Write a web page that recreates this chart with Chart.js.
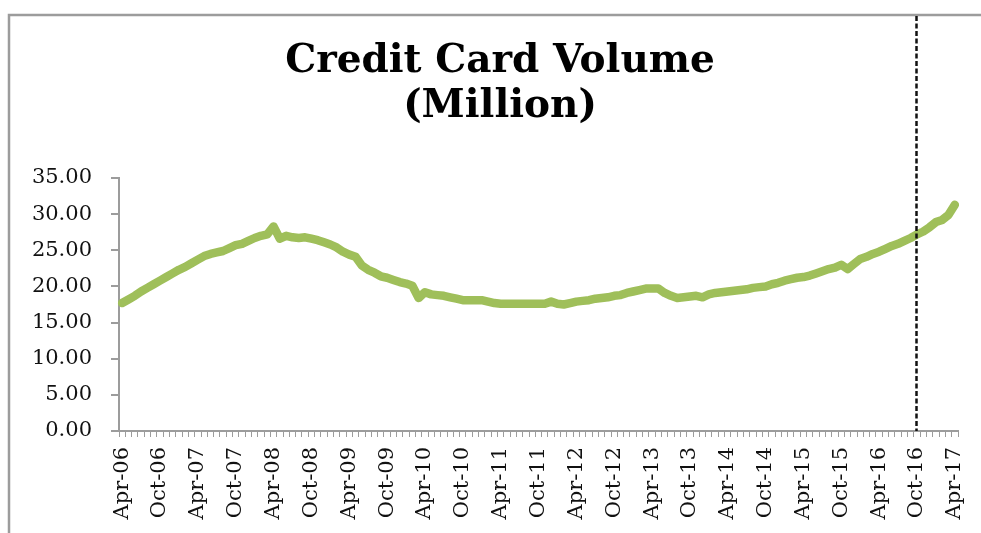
<!DOCTYPE html>
<html>
<head>
<meta charset="utf-8">
<title>Credit Card Volume (Million)</title>
<script src="https://cdn.jsdelivr.net/npm/chart.js@4/dist/chart.umd.min.js"></script>
<style>
  html, body { margin: 0; padding: 0; background: #ffffff; overflow: hidden; }
  #wrap { position: relative; width: 981px; height: 533px; }
</style>
</head>
<body>
<div id="wrap"><canvas id="chart" width="981" height="533"></canvas></div>
<script>
// ---- data ----------------------------------------------------------------
const titleLines = ['Credit Card Volume', '(Million)'];
const monthNames = ['Jan', 'Feb', 'Mar', 'Apr', 'May', 'Jun', 'Jul', 'Aug', 'Sep', 'Oct', 'Nov', 'Dec'];
const startYear = 2006;
const startMonthIndex = 3;          // April
const labelEvery = 6;               // a labelled tick every six months
const markerMonth = 'Oct-16';

// monthly credit card volume, Apr-06 .. Apr-17 (millions)
const volume = [
  17.7, 18.2, 18.7, 19.3, 19.8, 20.3, 20.8, 21.3, 21.8, 22.3, 22.7, 23.2,   // Apr-06 .. Mar-07
  23.7, 24.2, 24.5, 24.7, 24.9, 25.3, 25.7, 25.9, 26.3, 26.7, 27.0, 27.2,   // Apr-07 .. Mar-08
  28.3, 26.6, 27.0, 26.8, 26.7, 26.8, 26.6, 26.4, 26.1, 25.8, 25.4, 24.8,   // Apr-08 .. Mar-09
  24.4, 24.1, 22.9, 22.3, 21.9, 21.4, 21.2, 20.9, 20.6, 20.4, 20.1, 18.4,   // Apr-09 .. Mar-10
  19.2, 18.9, 18.8, 18.7, 18.5, 18.3, 18.1, 18.1, 18.1, 18.1, 17.9, 17.7,   // Apr-10 .. Mar-11
  17.6, 17.6, 17.6, 17.6, 17.6, 17.6, 17.6, 17.6, 17.9, 17.6, 17.5, 17.7,   // Apr-11 .. Mar-12
  17.9, 18.0, 18.1, 18.3, 18.4, 18.5, 18.7, 18.8, 19.1, 19.3, 19.5, 19.7,   // Apr-12 .. Mar-13
  19.7, 19.7, 19.1, 18.7, 18.4, 18.5, 18.6, 18.7, 18.5, 18.9, 19.1, 19.2,   // Apr-13 .. Mar-14
  19.3, 19.4, 19.5, 19.6, 19.8, 19.9, 20.0, 20.3, 20.5, 20.8, 21.0, 21.2,   // Apr-14 .. Mar-15
  21.3, 21.5, 21.8, 22.1, 22.4, 22.6, 23.0, 22.4, 23.1, 23.8, 24.1, 24.5,   // Apr-15 .. Mar-16
  24.8, 25.2, 25.6, 25.9, 26.3, 26.7, 27.2, 27.6, 28.2, 28.9, 29.2, 29.9,   // Apr-16 .. Mar-17
  31.3                                                                      // Apr-17
];

const yMin = 0;
const yMax = 35;
const yStep = 5;

// month categories, e.g. "Apr-06"
const months = volume.map((_, i) => {
  const k = startMonthIndex + i;
  const yr = (startYear + Math.floor(k / 12)) % 100;
  return monthNames[k % 12] + '-' + String(yr).padStart(2, '0');
});

// ---- styling ---------------------------------------------------------------
const AXIS_GREY = '#9c9c9c';
const LINE_GREEN = '#9fbf5a';
const SERIF = '"DejaVu Serif", "Liberation Serif", serif';

// frame, title and the dashed marker line
const decorations = {
  id: 'decorations',
  beforeDraw(chart) {
    const ctx = chart.ctx;
    ctx.save();
    ctx.fillStyle = '#ffffff';
    ctx.fillRect(0, 0, chart.width, chart.height);
    ctx.strokeStyle = AXIS_GREY;
    ctx.lineWidth = 2.5;
    ctx.beginPath();
    ctx.moveTo(9, chart.height + 4);
    ctx.lineTo(9, 15);
    ctx.lineTo(chart.width + 4, 15);
    ctx.stroke();
    ctx.restore();
  },
  afterDraw(chart) {
    const ctx = chart.ctx;
    ctx.save();
    // title
    ctx.fillStyle = '#000000';
    ctx.font = 'bold 39px ' + SERIF;
    ctx.textAlign = 'center';
    ctx.textBaseline = 'alphabetic';
    ctx.fillText(titleLines[0], 500, 72);
    ctx.fillText(titleLines[1], 500, 117);

    // dashed vertical marker
    const xScale = chart.scales.x;
    const idx = months.indexOf(markerMonth);
    if (idx >= 0) {
      const x = Math.round(xScale.getPixelForValue(idx)) - 0.5;
      ctx.strokeStyle = '#111111';
      ctx.lineWidth = 2.5;
      ctx.setLineDash([5, 2.5]);
      ctx.beginPath();
      ctx.moveTo(x, 16);
      ctx.lineTo(x, chart.chartArea.bottom);
      ctx.stroke();
    }
    ctx.restore();
  }
};

new Chart(document.getElementById('chart'), {
  type: 'line',
  data: {
    labels: months,
    datasets: [{
      label: 'Credit Card Volume',
      data: volume,
      borderColor: LINE_GREEN,
      backgroundColor: LINE_GREEN,
      borderWidth: 8.5,
      borderCapStyle: 'round',
      borderJoinStyle: 'round',
      pointRadius: 0,
      pointHoverRadius: 0,
      tension: 0,
      fill: false
    }]
  },
  options: {
    responsive: false,
    animation: false,
    devicePixelRatio: 1,
    layout: { padding: { left: 0, right: 23, top: 178, bottom: 0 } },
    plugins: {
      legend: { display: false },
      title: { display: false },
      tooltip: { enabled: false }
    },
    scales: {
      x: {
        type: 'category',
        offset: true,
        afterFit(scale) {
          scale.height = 102;
          scale.paddingLeft = 0;
          scale.paddingRight = 0;
        },
        border: { display: true, color: AXIS_GREY, width: 2 },
        grid: {
          offset: true,
          drawOnChartArea: false,
          drawTicks: true,
          tickLength: 6,
          color: AXIS_GREY,
          lineWidth: 1
        },
        ticks: {
          autoSkip: false,
          minRotation: 90,
          maxRotation: 90,
          padding: 10,
          color: '#111111',
          font: { family: SERIF, size: 21 },
          callback(value, index) {
            return index % labelEvery === 0 ? this.getLabelForValue(value) : '';
          }
        }
      },
      y: {
        min: yMin,
        max: yMax,
        afterFit(scale) {
          scale.width = 119;
          scale.paddingTop = 0;
          scale.paddingBottom = 0;
        },
        border: { display: true, color: AXIS_GREY, width: 2 },
        grid: {
          drawOnChartArea: false,
          drawTicks: true,
          tickLength: 8,
          color: AXIS_GREY,
          lineWidth: 2
        },
        ticks: {
          stepSize: yStep,
          padding: 19,
          color: '#111111',
          font: { family: SERIF, size: 21 },
          callback(value) { return Number(value).toFixed(2); }
        }
      }
    }
  },
  plugins: [decorations]
});
</script>
</body>
</html>
